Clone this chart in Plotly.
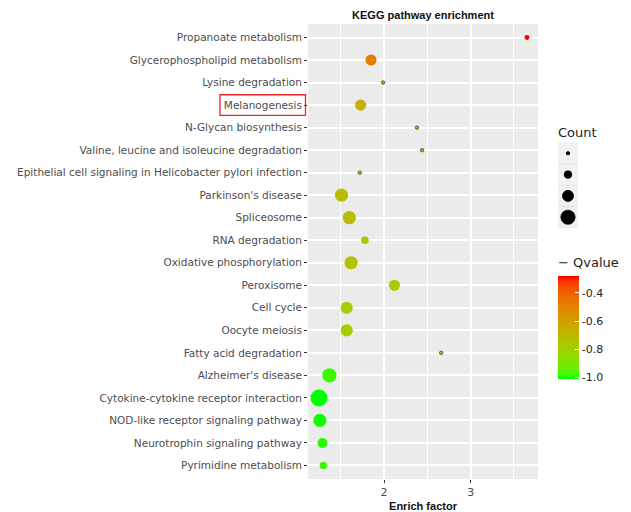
import numpy as np
import plotly.graph_objects as go

pathways = [
    "Propanoate metabolism", "Glycerophospholipid metabolism", "Lysine degradation",
    "Melanogenesis", "N-Glycan biosynthesis", "Valine, leucine and isoleucine degradation",
    "Epithelial cell signaling in Helicobacter pylori infection", "Parkinson's disease",
    "Spliceosome", "RNA degradation", "Oxidative phosphorylation", "Peroxisome",
    "Cell cycle", "Oocyte meiosis", "Fatty acid degradation", "Alzheimer's disease",
    "Cytokine-cytokine receptor interaction", "NOD-like receptor signaling pathway",
    "Neurotrophin signaling pathway", "Pyrimidine metabolism",
]
enrich_factor = [3.65, 1.85, 1.99, 1.73, 2.38, 2.44, 1.72, 1.51, 1.60, 1.78,
                 1.62, 2.12, 1.57, 1.57, 2.66, 1.37, 1.25, 1.26, 1.29, 1.30]
counts = [7, 12, 6, 12, 6, 6, 6, 14, 14, 9, 14, 12, 13, 13, 6, 15, 18, 14, 11, 9]
qvalue = [-0.28, -0.48, -0.6, -0.67, -0.69, -0.7, -0.7, -0.72, -0.72, -0.755,
          -0.75, -0.77, -0.79, -0.79, -0.8, -0.98, -1.01, -1.0, -0.99, -0.98]

size_breaks = [6, 9, 12, 15]
q_ticks = [-0.4, -0.6, -0.8, -1.0]
q_ticktext = ["-0.4", "-0.6", "-0.8", "-1.0"]
highlight = "Melanogenesis"


# ---- ggplot-like Lab gradient green -> red ----
def _lin(c):
    c = np.asarray(c, float) / 255
    return np.where(c <= 0.04045, c / 12.92, ((c + 0.055) / 1.055) ** 2.4)

M = np.array([[0.4124, 0.3576, 0.1805], [0.2126, 0.7152, 0.0722], [0.0193, 0.1192, 0.9505]])
WN = np.array([0.95047, 1.0, 1.08883])

def _f(t):
    d = 6 / 29
    return np.where(t > d ** 3, np.cbrt(t), t / (3 * d * d) + 4 / 29)

def _finv(t):
    d = 6 / 29
    return np.where(t > d, t ** 3, 3 * d * d * (t - 4 / 29))

def rgb2lab(rgb):
    xyz = M @ _lin(rgb) / WN
    fx, fy, fz = _f(xyz)
    return np.array([116 * fy - 16, 500 * (fx - fy), 200 * (fy - fz)])

def lab2rgb(lab):
    L, a, b = lab
    fy = (L + 16) / 116
    fx = fy + a / 500
    fz = fy - b / 200
    xyz = _finv(np.array([fx, fy, fz])) * WN
    lin = np.linalg.solve(M, xyz)
    lin = np.clip(lin, 0, 1)
    s = np.where(lin <= 0.0031308, 12.92 * lin, 1.055 * lin ** (1 / 2.4) - 0.055)
    r, g, bb = np.clip(np.round(s * 255), 0, 255).astype(int)
    return f"rgb({r},{g},{bb})"

lo, hi = rgb2lab([0, 255, 0]), rgb2lab([255, 0, 0])
colorscale = [[t, lab2rgb(lo + (hi - lo) * t)] for t in np.linspace(0, 1, 21)]


def diam(c):
    c = np.asarray(c, float)
    return 3.4 + (np.sqrt(c) - np.sqrt(6)) * 7.6


W, H = 631, 512
ML, MR, MT, MB = 308, 10, 24, 33
PW = W - ML - MR
PH = H - MT - MB
main_right = 230 / PW

def px2fx(px):
    return (px - ML) / PW

def py2fy(py):
    return (H - MB - py) / PH

fig = go.Figure()

small = min(counts)
fig.add_trace(go.Scatter(
    x=enrich_factor, y=pathways, mode="markers",
    marker=dict(
        size=diam(counts), color=qvalue, colorscale=colorscale,
        cmin=min(qvalue), cmax=max(qvalue), opacity=1,
        line=dict(color="#5a5a5a", width=[1.0 if c == small else 0 for c in counts]),
        colorbar=dict(
            tickvals=q_ticks, ticktext=q_ticktext,
            ticks="inside", tickcolor="white", ticklen=4, tickwidth=1,
            tickfont=dict(family="DejaVu Sans", size=11, color="#222"),
            thickness=21, thicknessmode="pixels", len=103, lenmode="pixels",
            x=px2fx(558), xanchor="left", y=py2fy(379), yanchor="bottom",
            outlinewidth=0, xpad=0, ypad=0,
        ),
    ),
    showlegend=False, hoverinfo="x+y",
))

# size legend as small subplot: key backgrounds, dots, labels
key_idx = list(range(len(size_breaks)))
fig.add_trace(go.Scatter(
    x=[0] * len(size_breaks), y=key_idx, mode="markers",
    marker=dict(symbol="square", size=19.5, color="#F2F2F2", opacity=1, line=dict(width=0)),
    xaxis="x2", yaxis="y2", showlegend=False, hoverinfo="skip", cliponaxis=False,
))
fig.add_trace(go.Scatter(
    x=[0] * len(size_breaks), y=key_idx, mode="markers",
    marker=dict(size=diam(size_breaks), color="#000000", opacity=1,
                line=dict(width=0.8, color="#000000")),
    xaxis="x2", yaxis="y2", showlegend=False, hoverinfo="skip", cliponaxis=False,
))
fig.add_trace(go.Scatter(
    x=[0.75] * len(size_breaks), y=key_idx, mode="text",
    text=[str(s) for s in size_breaks], textposition="middle right",
    textfont=dict(family="DejaVu Sans", size=11, color="#222"),
    xaxis="x2", yaxis="y2", showlegend=False, hoverinfo="skip", cliponaxis=False,
))

fig.add_annotation(text="Count", xref="paper", yref="paper", x=px2fx(556),
                   y=py2fy(132), xanchor="left", yanchor="middle", showarrow=False,
                   font=dict(family="DejaVu Sans", size=13, color="#222"))
fig.add_annotation(text="\u2212 Qvalue", xref="paper", yref="paper", x=px2fx(556),
                   y=py2fy(262), xanchor="left", yanchor="middle", showarrow=False,
                   font=dict(family="DejaVu Sans", size=13, color="#222"))

# highlight box around a label
hi_idx = pathways.index(highlight)
fig.add_shape(type="rect", xref="paper", yref="y", x0=px2fx(220), x1=px2fx(305.5),
              y0=hi_idx - 0.46, y1=hi_idx + 0.46, line=dict(color="#E8262A", width=1.3),
              fillcolor="rgba(0,0,0,0)", layer="above")

fig.update_layout(
    width=W, height=H,
    margin=dict(l=ML, r=MR, t=MT, b=MB, autoexpand=False),
    paper_bgcolor="white", plot_bgcolor="#EBEBEB",
    hovermode="closest",
    title=dict(text="<b>KEGG pathway enrichment</b>", x=px2fx(423), xref="paper",
               xanchor="center", y=1 - 15 / H, yanchor="middle",
               font=dict(family="Liberation Sans", size=11, color="#111")),
    xaxis=dict(
        domain=[0, main_right], range=[1.123, 3.777], tickvals=[2, 3],
        showgrid=True, gridcolor="white", gridwidth=1.6, zeroline=False,
        minor=dict(dtick=0.5, tick0=0, showgrid=True, gridcolor="white", gridwidth=0.7),
        ticks="outside", ticklen=3, tickcolor="#333", tickwidth=1,
        tickfont=dict(family="DejaVu Sans", size=11, color="#4D4D4D"),
        title=dict(text="<b>Enrich factor</b>", standoff=4,
                   font=dict(family="Liberation Sans", size=11, color="#111")),
        showline=False, automargin=False,
    ),
    yaxis=dict(
        type="category", categoryorder="array", categoryarray=pathways,
        range=[len(pathways) - 0.4, -0.6],
        showgrid=True, gridcolor="white", gridwidth=1.6, zeroline=False,
        ticks="outside", ticklen=3, tickcolor="#333", tickwidth=1,
        tickfont=dict(family="DejaVu Sans", size=10.5, color="#4D4D4D"),
        showline=False, automargin=False,
    ),
    xaxis2=dict(domain=[px2fx(558), px2fx(578)], range=[-0.5, 0.5], visible=False,
                anchor="y2", fixedrange=True),
    yaxis2=dict(domain=[py2fy(227.9), py2fy(142.6)], range=[3.5, -0.5], visible=False,
                anchor="x2", fixedrange=True),
)

fig.write_html("out.html", config={"displayModeBar": False},
               post_script="document.body.style.margin='0';document.body.style.padding='0';")
